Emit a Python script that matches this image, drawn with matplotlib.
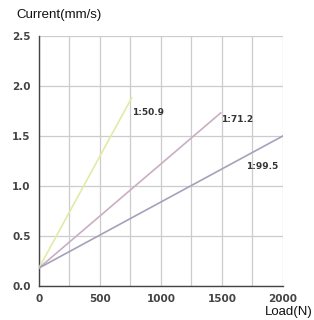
import matplotlib
matplotlib.use("Agg")
import matplotlib.pyplot as plt

# gear ratio lines: load (N) vs current
ratios = ["1:50.9", "1:71.2", "1:99.5"]
load_start = [0, 0, 0]
load_end = [760, 1490, 2000]
cur_start = [0.18, 0.18, 0.18]
cur_end = [1.88, 1.73, 1.50]
colors = ["#e4eaa6", "#c9aec4", "#a2a2bc"]
label_pos = [(765, 1.73), (1495, 1.66), (1700, 1.19)]

xticks = [0, 500, 1000, 1500, 2000]
yticks = [0.0, 0.5, 1.0, 1.5, 2.0, 2.5]

plt.rcParams['font.family'] = ['Liberation Sans', 'DejaVu Sans']

fig = plt.figure(figsize=(3.14, 3.2), dpi=100)
ax = fig.add_axes([0.124, 0.106, 0.777, 0.782])

for i in range(len(ratios)):
    ax.plot([load_start[i], load_end[i]], [cur_start[i], cur_end[i]],
            color=colors[i], lw=1.2, zorder=3)
    ax.text(label_pos[i][0], label_pos[i][1], ratios[i], fontsize=6.5,
            family="DejaVu Sans", fontweight="bold", color="#333333",
            va="center", ha="left", zorder=4)

ax.set_xlim(0, 2000)
ax.set_ylim(0, 2.5)
ax.set_xticks(xticks)
ax.set_yticks(yticks)
ax.set_xticklabels([str(v) for v in xticks], fontweight="bold", family="DejaVu Sans")
ax.set_yticklabels(["%.1f" % v for v in yticks], fontweight="bold", family="DejaVu Sans")
ax.set_xticks(range(0, 2001, 250), minor=True)
ax.grid(True, which="both", axis="x", color="#cccccc", lw=0.9)
ax.grid(True, which="major", axis="y", color="#cccccc", lw=0.9)
ax.tick_params(axis="both", which="both", length=0, labelsize=7.5, colors="#444444", pad=6)
ax.tick_params(axis="x", which="minor", length=0)

for s in ["top", "right"]:
    ax.spines[s].set_visible(False)
for s in ["left", "bottom"]:
    ax.spines[s].set_color("#444444")
    ax.spines[s].set_linewidth(1.0)

fig.text(0.052, 0.953, "Current(mm/s)", fontsize=9.5, color="#111111", va="center")
fig.text(0.995, 0.025, "Load(N)", fontsize=9.5, color="#111111", va="center", ha="right")

fig.savefig("out.png", dpi=100, facecolor="white")
